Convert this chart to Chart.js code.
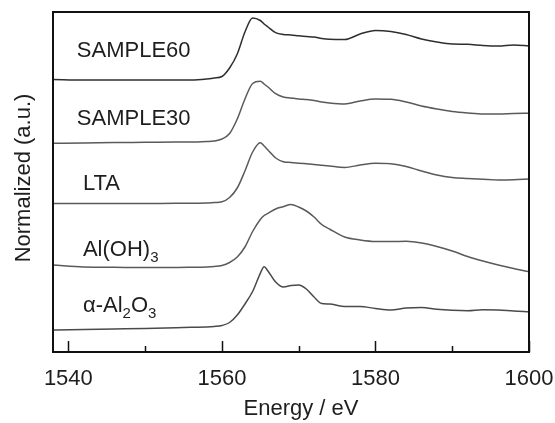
<!DOCTYPE html>
<html>
<head>
<meta charset="utf-8">
<script src="https://cdn.jsdelivr.net/npm/chart.js@4"></script>
<style>
  html, body { margin: 0; padding: 0; background: #fff; }
  #wrap { width: 555px; height: 423px; }
</style>
</head>
<body>
<div id="wrap"><canvas id="xanes"></canvas></div>
<script>
// photon energy (eV), shared by all spectra
const energy = [1538, 1542, 1546, 1550, 1554, 1556, 1558, 1559, 1560, 1561, 1562, 1563, 1564, 1565, 1565.5,
  1566, 1567, 1568, 1569, 1570, 1571, 1572, 1573, 1574, 1576, 1578, 1580, 1582, 1584, 1586, 1588,
  1590, 1592, 1594, 1596, 1598, 1600];

// normalized intensity, already stacked with offsets (a.u.)
const sample60 = [2.725, 2.72, 2.72, 2.72, 2.72, 2.72, 2.73, 2.74, 2.755, 2.84, 2.98, 3.20, 3.34, 3.315, 3.28,
  3.25, 3.193, 3.175, 3.17, 3.162, 3.155, 3.15, 3.135, 3.127, 3.125, 3.18, 3.215, 3.205, 3.175, 3.13, 3.10,
  3.08, 3.077, 3.065, 3.06, 3.07, 3.06];
const sample30 = [2.087, 2.09, 2.095, 2.097, 2.10, 2.10, 2.105, 2.11, 2.13, 2.185, 2.33, 2.53, 2.685, 2.708, 2.68,
  2.65, 2.583, 2.55, 2.54, 2.53, 2.524, 2.515, 2.50, 2.49, 2.48, 2.51, 2.53, 2.527, 2.50, 2.46, 2.43,
  2.405, 2.39, 2.38, 2.38, 2.385, 2.387];
const lta = [1.485, 1.485, 1.485, 1.485, 1.487, 1.487, 1.49, 1.495, 1.502, 1.545, 1.64, 1.81, 2.00, 2.092, 2.06,
  2.02, 1.94, 1.903, 1.895, 1.888, 1.882, 1.876, 1.868, 1.86, 1.845, 1.87, 1.887, 1.882, 1.855, 1.81, 1.77,
  1.745, 1.735, 1.727, 1.72, 1.722, 1.73];
const aloh3 = [0.87, 0.85, 0.847, 0.845, 0.845, 0.847, 0.85, 0.855, 0.865, 0.895, 0.95, 1.05, 1.205, 1.325, 1.365,
  1.386, 1.43, 1.453, 1.475, 1.45, 1.41, 1.35, 1.275, 1.23, 1.15, 1.12, 1.105, 1.105, 1.107, 1.09, 1.055,
  1.01, 0.955, 0.91, 0.87, 0.835, 0.803];
const alumina = [0.22, 0.225, 0.23, 0.235, 0.242, 0.247, 0.25, 0.255, 0.265, 0.295, 0.37, 0.48, 0.605, 0.787, 0.853,
  0.81, 0.70, 0.65, 0.665, 0.67, 0.63, 0.55, 0.485, 0.48, 0.455, 0.455, 0.435, 0.42, 0.44, 0.445, 0.427,
  0.417, 0.413, 0.423, 0.42, 0.41, 0.403];

const majorTicks = [1540, 1560, 1580, 1600];
const minorTicks = [1550, 1570, 1590];

const FONT = "'Liberation Sans', Arial, sans-serif";
const TEXT_COLOR = '#1e1e1e';

// curve labels: [text, subscript flag] pieces, anchored in data units
const curveLabels = [
  { parts: [['SAMPLE60', false]], x: 1541.1, y: 2.947 },
  { parts: [['SAMPLE30', false]], x: 1541.1, y: 2.27 },
  { parts: [['LTA', false]], x: 1541.9, y: 1.62 },
  { parts: [['Al(OH)', false], ['3', true]], x: 1541.9, y: 0.96 },
  { parts: [['\u03b1-Al', false], ['2', true], ['O', false], ['3', true]], x: 1541.9, y: 0.403 }
];

function series(vals){
  return energy.map((e, i) => ({ x: e, y: vals[i] }));
}

function lineSet(label, vals, color){
  return {
    label: label,
    data: series(vals),
    borderColor: color,
    borderWidth: 1.5,
    pointRadius: 0,
    fill: false,
    cubicInterpolationMode: 'monotone'
  };
}

// frame, inward ticks, axis titles and curve labels
const decorPlugin = {
  id: 'decor',
  afterDraw(chart){
    const ctx = chart.ctx;
    const a = chart.chartArea;
    const xs = chart.scales.x;
    const ys = chart.scales.y;
    ctx.save();
    ctx.strokeStyle = '#111';
    ctx.lineWidth = 2;
    ctx.strokeRect(a.left, a.top, a.right - a.left, a.bottom - a.top);

    ctx.lineWidth = 1.5;
    ctx.beginPath();
    for (const t of majorTicks){
      const px = Math.round(xs.getPixelForValue(t)) + 0.5;
      ctx.moveTo(px, a.bottom); ctx.lineTo(px, a.bottom - 11);
    }
    for (const t of minorTicks){
      const px = Math.round(xs.getPixelForValue(t)) + 0.5;
      ctx.moveTo(px, a.bottom); ctx.lineTo(px, a.bottom - 6);
    }
    ctx.stroke();

    ctx.fillStyle = TEXT_COLOR;
    ctx.font = '22px ' + FONT;
    ctx.textAlign = 'center';
    ctx.textBaseline = 'alphabetic';
    ctx.fillText('Energy / eV', a.left + (a.right - a.left) / 2 + 10, 415);

    ctx.save();
    ctx.translate(30, a.top + (a.bottom - a.top) / 2 - 4);
    ctx.rotate(-Math.PI / 2);
    ctx.fillText('Normalized (a.u.)', 0, 0);
    ctx.restore();

    ctx.textAlign = 'left';
    for (const lab of curveLabels){
      let px = xs.getPixelForValue(lab.x);
      const py = ys.getPixelForValue(lab.y);
      for (const [txt, sub] of lab.parts){
        ctx.font = (sub ? '15px ' : '22px ') + FONT;
        ctx.fillText(txt, px, sub ? py + 6 : py);
        px += ctx.measureText(txt).width;
      }
    }
    ctx.restore();
  }
};

new Chart(document.getElementById('xanes'), {
  type: 'line',
  data: {
    datasets: [
      lineSet('SAMPLE60', sample60, '#2e2e2e'),
      lineSet('SAMPLE30', sample30, '#5a5a5a'),
      lineSet('LTA', lta, '#5a5a5a'),
      lineSet('Al(OH)3', aloh3, '#5a5a5a'),
      lineSet('\u03b1-Al2O3', alumina, '#4a4a4a')
    ]
  },
  options: {
    responsive: true,
    maintainAspectRatio: false,
    animation: false,
    layout: { padding: { left: 53, right: 26, top: 12, bottom: 0 } },
    plugins: {
      legend: { display: false },
      tooltip: { enabled: false }
    },
    scales: {
      x: {
        type: 'linear',
        min: 1538,
        max: 1600,
        afterBuildTicks: (scale) => { scale.ticks = majorTicks.map(v => ({ value: v })); },
        afterFit: (scale) => {
          scale.height = 71;
          scale.paddingLeft = 0;
          scale.paddingRight = 0;
        },
        grid: { display: false, drawTicks: false },
        border: { display: false },
        ticks: {
          padding: 14,
          color: TEXT_COLOR,
          font: { family: FONT, size: 22 },
          maxRotation: 0,
          callback: (v) => String(v)
        }
      },
      y: {
        display: false,
        min: 0,
        max: 3.4
      }
    }
  },
  plugins: [decorPlugin]
});
</script>
</body>
</html>
